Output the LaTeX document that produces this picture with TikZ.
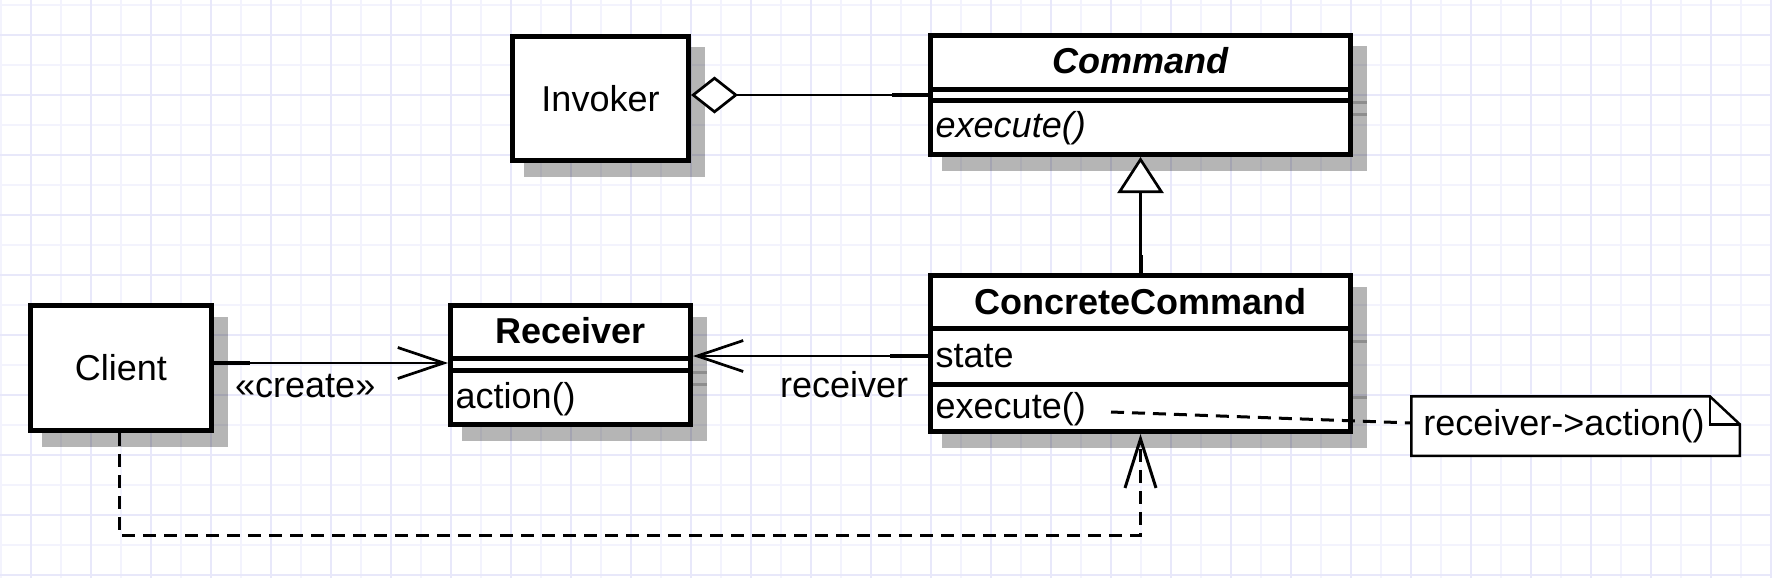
\documentclass[tikz,border=0pt]{standalone}
\usepackage{fontspec}
\setmainfont{Liberation Sans}
\usetikzlibrary{arrows.meta,calc}
\pgfdeclarelayer{gridlayer}
\pgfdeclarelayer{shadowlayer}
\pgfsetlayers{gridlayer,shadowlayer,main}
\definecolor{gridmajor}{RGB}{232,232,250}
\definecolor{gridminor}{RGB}{243,243,253}
\tikzset{
  umlbox/.style={draw, line width=5pt, fill=white, inner sep=0pt},
  divider/.style={line width=5pt},
  txt/.style={inner sep=0pt},
  shadowbox/.style={fill=black, opacity=0.29},
  shadowline/.style={draw=black, opacity=0.22, line width=3pt},
  conn/.style={line width=2.7pt},
  stub/.style={line width=4pt},
  openarrow/.style={conn, -{Straight Barb[length=46pt, width=31pt]}},
  inherit/.style={conn, -{Triangle[fill=white, length=36pt, width=46pt]}},
  aggr/.style={conn, {Diamond[fill=white, length=47pt, width=37pt]}-},
  dep/.style={conn, line width=3pt, dash pattern=on 13pt off 8pt, -{Straight Barb[length=49pt, width=31pt]}},
  notedash/.style={conn, line width=3pt, dash pattern=on 13pt off 8pt},
  notebox/.style={line width=2.5pt, fill=white},
  gridmin/.style={draw=gridminor, line width=2pt},
  gridmaj/.style={draw=gridmajor, line width=2pt}
}
\begin{document}
\fontsize{36}{43}\selectfont
\begin{tikzpicture}[x=1pt, y=-1pt]
\useasboundingbox (0,0) rectangle (1772,578);
% ---------- background grid
\begin{pgfonlayer}{gridlayer}
  \fill[white] (0,0) rectangle (1772,578);
  \foreach \gx in {1,31,...,1771} \draw[gridmin] (\gx,0) -- (\gx,578);
  \foreach \gy in {5,35,...,575} \draw[gridmin] (0,\gy) -- (1772,\gy);
  \foreach \gx in {31,91,...,1771} \draw[gridmaj] (\gx,0) -- (\gx,578);
  \foreach \gy in {35,95,...,575} \draw[gridmaj] (0,\gy) -- (1772,\gy);
\end{pgfonlayer}

% ---------- classes
\node[umlbox, minimum width=176pt, minimum height=124pt] (Invoker) at (600.5,98.5) {Invoker};

\node[umlbox, minimum width=420pt, minimum height=119pt] (Command) at (1140.5,95) {};
\draw[divider] (928,89) -- (1353,89);
\draw[divider] (928,100.5) -- (1353,100.5);
\node[txt, font=\bfseries\itshape] (cmdtitle) at (1140.5,61) {Command};
\node[txt, anchor=west, font=\itshape] (cmdexec) at (935.5,128.5) {execute()};

\node[umlbox, minimum width=420pt, minimum height=156pt] (CC) at (1140.5,353.5) {};
\draw[divider] (928,328) -- (1353,328);
\draw[divider] (928,384) -- (1353,384);
\node[txt, font=\bfseries] (cctitle) at (1140.5,301.5) {ConcreteCommand};
\node[txt, anchor=west] (ccstate) at (935.5,356) {state};
\node[txt, anchor=west] (ccexec) at (935.5,409) {execute()};

\node[umlbox, minimum width=240pt, minimum height=119pt] (Receiver) at (570.5,365) {};
\draw[divider] (448,358.5) -- (693,358.5);
\draw[divider] (448,370.5) -- (693,370.5);
\node[txt, font=\bfseries] (rectitle) at (570.5,331) {Receiver};
\node[txt, anchor=west] (recaction) at (455.5,399) {action()};

\node[umlbox, minimum width=181pt, minimum height=125pt] (Client) at (121,368) {Client};

% ---------- shadows
\begin{pgfonlayer}{shadowlayer}
  \foreach \n in {Invoker,Command,CC,Receiver,Client}
    \fill[shadowbox] ([shift={(13.5,13.5)}]\n.north west) rectangle ([shift={(13.5,13.5)}]\n.south east);
  \foreach \yy in {89,100.5} \draw[shadowline] (941.5,\yy+13.5) -- (1366.5,\yy+13.5);
  \foreach \yy in {328,384} \draw[shadowline] (941.5,\yy+13.5) -- (1366.5,\yy+13.5);
  \foreach \yy in {358.5,370.5} \draw[shadowline] (461.5,\yy+13.5) -- (706.5,\yy+13.5);
\end{pgfonlayer}

% ---------- note
\node[minimum width=328.5pt, minimum height=59.5pt, inner sep=0pt, outer sep=0pt] (note) at (1575.5,426) {};
\draw[notebox] (note.north west) -- ([xshift=-30pt]note.north east) -- ([yshift=-28pt]note.north east)
  -- (note.south east) -- (note.south west) -- cycle;
\draw[line width=2.5pt] ([xshift=-30pt]note.north east) -- ([xshift=-30pt,yshift=-28pt]note.north east)
  -- ([yshift=-28pt]note.north east);
\node[txt, anchor=west] (notetext) at ([xshift=12pt]note.west) {receiver->action()};

% ---------- connectors
\draw[aggr] (Invoker.east |- Command.west) -- (Command.west);
\draw[stub] (Command.west) -- ++(-36,0);
\draw[inherit] (CC.north) -- (Command.south);
\draw[stub] (CC.north) -- ++(0,-18);

\coordinate (rcv) at ([yshift=-2.5pt]CC.west);
\draw[openarrow] (rcv) -- (rcv -| Receiver.east);
\draw[stub] (rcv) -- ++(-38,0);
\node[txt, anchor=base west] (rcvlabel) at (780,397) {receiver};

\coordinate (crt) at ([yshift=2pt]Receiver.west);
\draw[openarrow] (crt -| Client.east) -- (crt);
\draw[stub] (crt -| Client.east) -- ++(36,0);
\node[txt, anchor=base west] (crtlabel) at (235,397) {«create»};

\coordinate (dy) at (0,535);
\draw[dep] ([xshift=-2pt]Client.south) -- ([xshift=-2pt]Client.south |- dy) -| (CC.south);
\draw[line width=3pt] ([xshift=-2pt]Client.south) -- ++(0,9);

\coordinate (execend) at (1111,412);
\draw[notedash] (execend) -- ([yshift=3pt]note.west);
\end{tikzpicture}
\end{document}
